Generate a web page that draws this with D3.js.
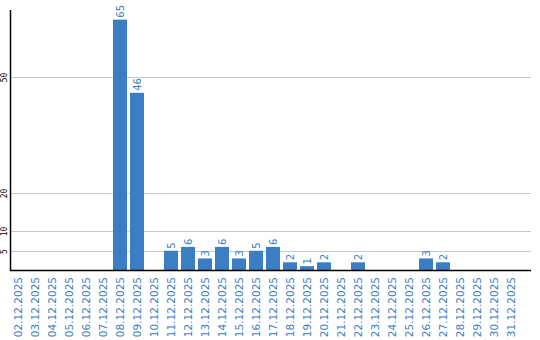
<!DOCTYPE html>
<html>
<head>
<meta charset="utf-8">
<script src="https://cdn.jsdelivr.net/npm/d3@7"></script>
<style>
  body { margin: 0; background: #fff; }
  svg { display: block; }
</style>
</head>
<body>
<svg id="chart" width="540" height="340"></svg>
<script>
// december days
var days = [
  "02.12.2025", "03.12.2025", "04.12.2025", "05.12.2025", "06.12.2025",
  "07.12.2025", "08.12.2025", "09.12.2025", "10.12.2025", "11.12.2025",
  "12.12.2025", "13.12.2025", "14.12.2025", "15.12.2025", "16.12.2025",
  "17.12.2025", "18.12.2025", "19.12.2025", "20.12.2025", "21.12.2025",
  "22.12.2025", "23.12.2025", "24.12.2025", "25.12.2025", "26.12.2025",
  "27.12.2025", "28.12.2025", "29.12.2025", "30.12.2025", "31.12.2025"
];
var counts = [
  0, 0, 0, 0, 0,
  0, 65, 46, 0, 5,
  6, 3, 6, 3, 5,
  6, 2, 1, 2, 0,
  2, 0, 0, 0, 3,
  2, 0, 0, 0, 0
];
var yTicks = [5, 10, 20, 50];

var blue = "#3b7ec3";
var svg = d3.select("#chart");

var rows = days.map(function(d, i){ return {day: d, n: counts[i]}; });

var x = d3.scaleBand()
  .domain(days)
  .range([11, 518])
  .paddingInner(3 / 17)
  .paddingOuter(0);

var y = d3.scaleLinear()
  .domain([0, 67.5])
  .range([270, 10]);

// grid lines
svg.append("g").selectAll("line")
  .data(yTicks)
  .enter().append("line")
  .attr("x1", 10)
  .attr("x2", 531)
  .attr("y1", function(d){ return Math.round(y(d)) + 0.5; })
  .attr("y2", function(d){ return Math.round(y(d)) + 0.5; })
  .style("stroke", "#c8c8c8")
  .style("stroke-width", "1px");

// y tick labels
svg.append("g").selectAll("text")
  .data(yTicks)
  .enter().append("text")
  .attr("transform", function(d){ return "translate(7," + (Math.round(y(d)) + 0.5) + ") rotate(-90)"; })
  .attr("text-anchor", "middle")
  .style("font-family", "DejaVu Sans Mono")
  .style("font-size", "8px")
  .style("fill", "#000")
  .text(function(d){ return d; });

// bars
svg.append("g").selectAll("rect")
  .data(rows)
  .enter().append("rect")
  .attr("x", function(d){ return x(d.day); })
  .attr("width", x.bandwidth())
  .attr("y", function(d){ return y(d.n); })
  .attr("height", function(d){ return y(0) - y(d.n); })
  .style("fill", blue);

// value labels, only for days with something
svg.append("g").selectAll("text")
  .data(rows.filter(function(d){ return d.n > 0; }))
  .enter().append("text")
  .attr("transform", function(d){
    return "translate(" + (x(d.day) + x.bandwidth() / 2 + 4) + "," + (y(d.n) - 2) + ") rotate(-90)";
  })
  .style("font-family", "DejaVu Sans")
  .style("font-size", "10px")
  .style("fill", blue)
  .text(function(d){ return d.n; });

// x labels
svg.append("g").selectAll("text")
  .data(days)
  .enter().append("text")
  .attr("transform", function(d){
    return "translate(" + (x(d) + x.bandwidth() / 2 + 3.5) + ",277) rotate(-90)";
  })
  .attr("text-anchor", "end")
  .style("font-family", "DejaVu Sans")
  .style("font-size", "10.5px")
  .style("fill", blue)
  .text(function(d){ return d; });

// axis lines
svg.append("line")
  .attr("x1", 10.5).attr("x2", 10.5)
  .attr("y1", 10).attr("y2", 271)
  .style("stroke", "#000").style("stroke-width", "1.5px");
svg.append("line")
  .attr("x1", 10).attr("x2", 531)
  .attr("y1", 270.5).attr("y2", 270.5)
  .style("stroke", "#000").style("stroke-width", "1.5px");
</script>
</body>
</html>
